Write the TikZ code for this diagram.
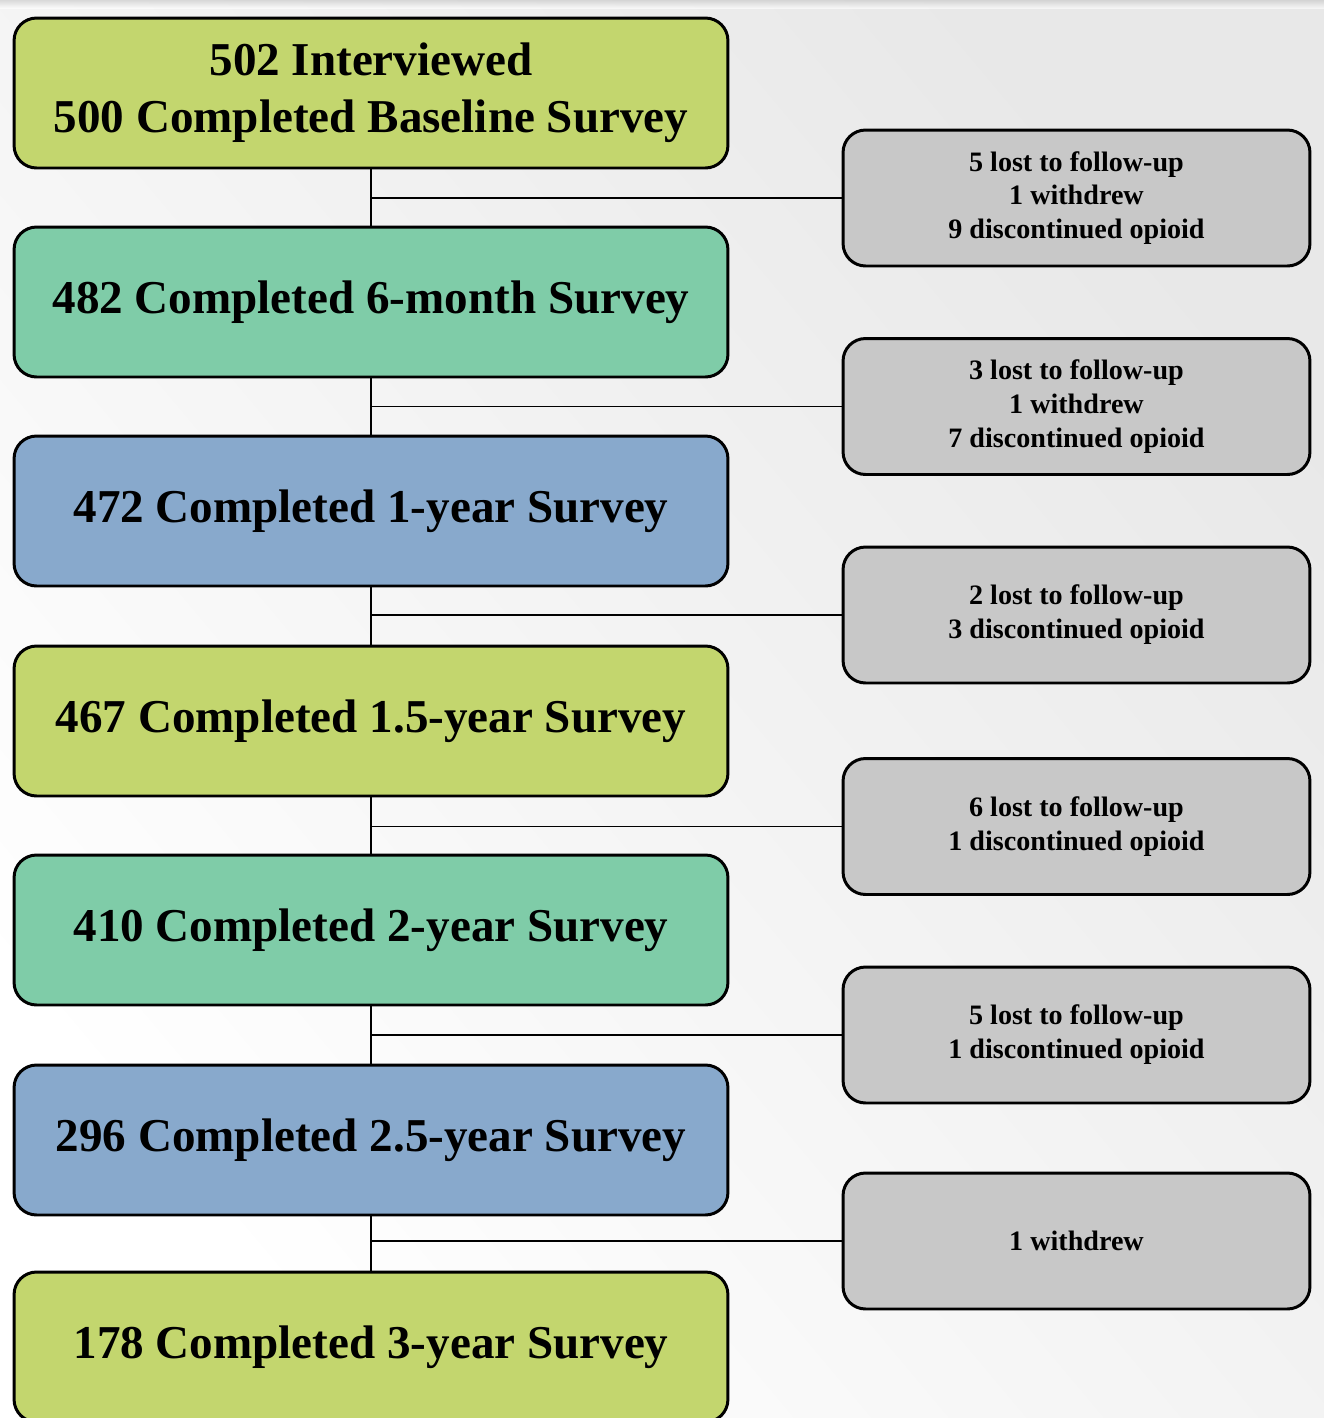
\documentclass[tikz,border=0pt]{standalone}
\usepackage{fontspec}
\setmainfont{Liberation Serif}
\definecolor{cgreen}{HTML}{C3D66E}
\definecolor{cteal}{HTML}{7FCCA8}
\definecolor{cblue}{HTML}{88A9CC}
\definecolor{cgray}{HTML}{C8C8C8}
\begin{document}
\begin{tikzpicture}[x=0.02cm,y=-0.02cm,
  mainbox/.style={draw=black, line width=1.7pt, rounded corners=0.45cm,
    minimum width=14.28cm, minimum height=3cm, align=center, inner sep=0pt,
    font=\fontsize{26.8}{32.5}\selectfont\bfseries},
  sidebox/.style={draw=black, line width=1.7pt, fill=cgray, rounded corners=0.45cm,
    minimum width=9.34cm, minimum height=2.72cm, align=center, inner sep=0pt,
    font=\fontsize{16}{19.3}\selectfont\bfseries},
  link/.style={draw=black, line width=1pt}]
\useasboundingbox (0,0) rectangle (1324,1418);
\shade[shading=axis, top color=black!9, bottom color=white, shading angle=-50] (0,0) rectangle (1324,1418);
\shade[top color=black!22, bottom color=black!0, opacity=0.6] (0,0) rectangle (1324,8);
\begin{scope}
\clip (0,0) rectangle (1324,1418);
\node[mainbox, fill=cgreen] (b1) at (371,93) {502 Interviewed\\500 Completed Baseline Survey};
\node[mainbox, fill=cteal] (b2) at (371,302) {482 Completed 6-month Survey};
\node[mainbox, fill=cblue] (b3) at (371,511) {472 Completed 1-year Survey};
\node[mainbox, fill=cgreen] (b4) at (371,721) {467 Completed 1.5-year Survey};
\node[mainbox, fill=cteal] (b5) at (371,930) {410 Completed 2-year Survey};
\node[mainbox, fill=cblue] (b6) at (371,1140) {296 Completed 2.5-year Survey};
\node[mainbox, fill=cgreen] (b7) at (371,1347) {178 Completed 3-year Survey};
\end{scope}
\node[sidebox] (g1) at (1076.5,198) {5 lost to follow-up\\1 withdrew\\9 discontinued opioid};
\node[sidebox] (g2) at (1076.5,406.5) {3 lost to follow-up\\1 withdrew\\7 discontinued opioid};
\node[sidebox] (g3) at (1076.5,615) {2 lost to follow-up\\3 discontinued opioid};
\node[sidebox] (g4) at (1076.5,826.5) {6 lost to follow-up\\1 discontinued opioid};
\node[sidebox] (g5) at (1076.5,1035) {5 lost to follow-up\\1 discontinued opioid};
\node[sidebox] (g6) at (1076.5,1241) {1 withdrew};
\foreach \a/\b/\g in {b1/b2/g1,b2/b3/g2,b3/b4/g3,b4/b5/g4,b5/b6/g5,b6/b7/g6}{
  \draw[link] (\a.south) -- (\b.north);
  \coordinate (j\g) at (\a.south |- \g.west);
  \draw[link] (j\g) -- (\g.west);
}
\end{tikzpicture}
\end{document}
